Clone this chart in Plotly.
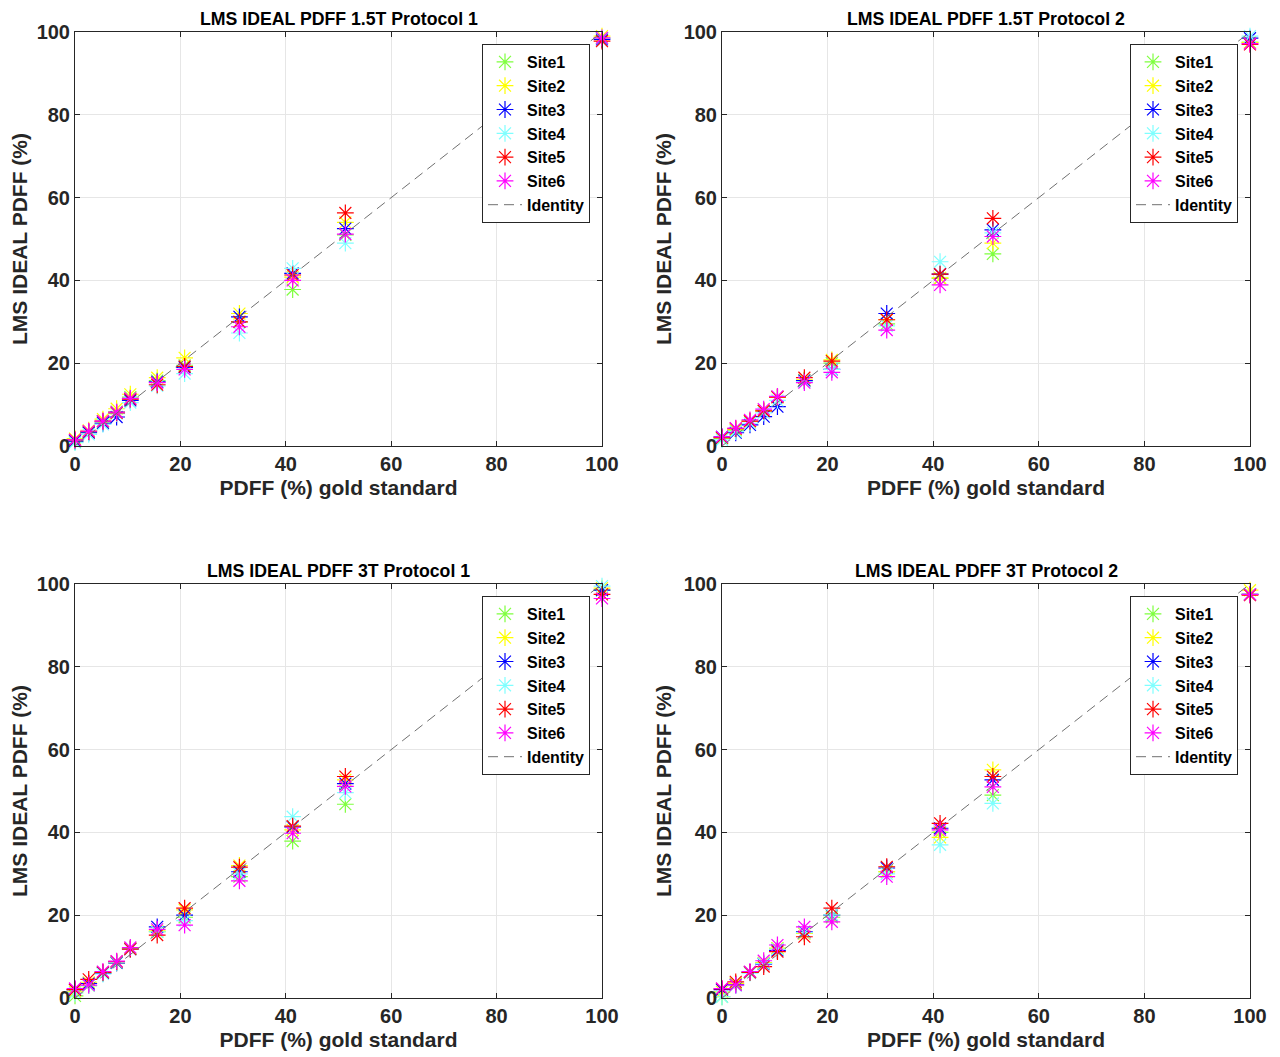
import plotly.graph_objects as go

# ---------------- data ----------------
gold_standard = [0, 2.6, 5.3, 7.9, 10.5, 15.6, 20.8, 31.2, 41.3, 51.3, 100]
site_names = ["Site1", "Site2", "Site3", "Site4", "Site5", "Site6"]
site_colors = ["#7fff3f", "#ffff00", "#0000ff", "#7fffff", "#ff0000", "#ff00ff"]

panel_titles = [
    "LMS IDEAL PDFF 1.5T Protocol 1",
    "LMS IDEAL PDFF 1.5T Protocol 2",
    "LMS IDEAL PDFF 3T Protocol 1",
    "LMS IDEAL PDFF 3T Protocol 2",
]

p1_site1 = [1.0, 3.3, 5.8, 8.3, 11.8, 15.8, 19.5, 30.0, 37.8, 51.0, 98.5]
p1_site2 = [1.8, 3.8, 6.5, 9.0, 12.5, 16.5, 21.3, 32.0, 40.8, 54.0, 99.0]
p1_site3 = [1.2, 3.2, 5.5, 7.0, 11.0, 15.5, 19.0, 31.2, 41.7, 52.5, 98.2]
p1_site4 = [0.8, 2.8, 5.2, 7.8, 10.5, 14.5, 17.5, 27.3, 42.9, 49.0, 98.5]
p1_site5 = [1.5, 3.5, 6.0, 8.0, 11.3, 14.8, 19.2, 30.0, 41.3, 56.3, 97.8]
p1_site6 = [1.5, 3.6, 6.0, 8.2, 11.5, 15.3, 18.5, 28.8, 40.0, 51.2, 98.6]

p2_site1 = [1.8, 3.8, 6.0, 8.5, 11.8, 15.8, 20.0, 29.5, 40.5, 46.4, 97.5]
p2_site2 = [2.0, 4.0, 6.0, 8.5, 11.8, 16.0, 20.8, 30.5, 40.6, 49.0, 97.5]
p2_site3 = [2.2, 3.2, 5.1, 7.1, 9.5, 15.8, 18.5, 32.0, 41.5, 52.2, 98.5]
p2_site4 = [1.5, 3.5, 5.5, 8.0, 11.0, 15.5, 18.5, 29.0, 44.5, 51.5, 99.0]
p2_site5 = [2.0, 4.2, 6.0, 8.5, 11.8, 16.5, 20.5, 30.5, 41.5, 55.0, 97.0]
p2_site6 = [2.2, 4.3, 6.3, 8.9, 12.0, 15.3, 17.8, 28.0, 38.9, 50.6, 97.2]

p3_site1 = [0.5, 3.0, 6.0, 8.5, 12.0, 16.0, 19.5, 29.3, 37.9, 46.8, 98.5]
p3_site2 = [1.5, 3.8, 6.2, 8.8, 12.0, 16.2, 21.3, 32.0, 40.6, 52.7, 99.0]
p3_site3 = [2.0, 3.5, 6.0, 8.5, 11.8, 17.2, 20.0, 30.5, 41.3, 51.8, 98.5]
p3_site4 = [1.2, 3.0, 5.8, 8.6, 11.8, 16.0, 18.7, 30.0, 43.8, 49.6, 99.5]
p3_site5 = [2.0, 4.5, 6.2, 8.8, 11.8, 15.2, 21.7, 31.6, 41.5, 53.5, 97.5]
p3_site6 = [2.3, 3.1, 6.4, 8.9, 12.2, 16.6, 17.6, 28.3, 39.8, 51.1, 96.5]

p4_site1 = [0.3, 3.5, 6.2, 8.5, 12.0, 15.6, 19.5, 30.5, 40.0, 49.0, 97.5]
p4_site2 = [1.5, 3.5, 6.2, 8.5, 12.0, 15.6, 20.0, 30.5, 38.8, 55.1, 98.5]
p4_site3 = [2.0, 3.2, 6.2, 8.2, 11.5, 16.0, 20.0, 31.4, 41.0, 52.7, 97.5]
p4_site4 = [0.3, 3.0, 6.0, 8.3, 11.8, 15.8, 20.1, 30.0, 37.0, 47.0, 97.5]
p4_site5 = [2.2, 3.9, 6.2, 7.6, 11.2, 14.8, 21.7, 31.7, 42.2, 53.5, 97.3]
p4_site6 = [2.3, 3.1, 6.4, 9.0, 12.8, 17.2, 18.4, 29.3, 40.6, 51.0, 97.5]

identity_x = [0, 100]
identity_y = [0, 100]

tick_vals = [0, 20, 40, 60, 80, 100]
x_title = "PDFF (%) gold standard"
y_title = "LMS IDEAL PDFF (%)"

panels = [
    [p1_site1, p1_site2, p1_site3, p1_site4, p1_site5, p1_site6],
    [p2_site1, p2_site2, p2_site3, p2_site4, p2_site5, p2_site6],
    [p3_site1, p3_site2, p3_site3, p3_site4, p3_site5, p3_site6],
    [p4_site1, p4_site2, p4_site3, p4_site4, p4_site5, p4_site6],
]

# ---------------- layout geometry ----------------
OFF = 8  # page body margin
W, H = 1272, 1049
ML, MR, MT, MB = 67, 30, 24, 59
IW, IH = W - ML - MR, H - MT - MB
FONT = "Liberation Sans, Arial, Helvetica, sans-serif"


def px_x(px):
    return (px - OFF - ML) / IW


def px_y(py):
    return (H - MB - (py - OFF)) / IH


# page-pixel boxes of each plot area: (left, right, top, bottom)
boxes = [(75, 602, 32, 446), (722, 1250, 32, 446),
         (75, 602, 584, 998), (722, 1250, 584, 998)]

fig = go.Figure()
layout = {}
annotations = []

for i, series in enumerate(panels):
    l, r, t, b = boxes[i]
    xa = "x" if i == 0 else f"x{i+1}"
    ya = "y" if i == 0 else f"y{i+1}"
    lg = "legend" if i == 0 else f"legend{i+1}"
    for name, color, vals in zip(site_names, site_colors, series):
        fig.add_trace(go.Scatter(
            x=gold_standard, y=vals, mode="markers", name=name,
            marker=dict(symbol="asterisk-open", size=14, color=color,
                        line=dict(color=color, width=1.2)),
            xaxis=xa, yaxis=ya, legend=lg, cliponaxis=False,
        ))
    fig.add_trace(go.Scatter(
        x=identity_x, y=identity_y, mode="lines", name="Identity",
        line=dict(color="#707070", width=1, dash="10px,6px"),
        xaxis=xa, yaxis=ya, legend=lg,
    ))

    axis_common = dict(
        range=[0, 100], tickvals=tick_vals, showgrid=True, gridcolor="#e6e6e6",
        gridwidth=1, zeroline=False, showline=True, linecolor="#262626",
        linewidth=1, mirror="ticks", ticks="inside", ticklen=5,
        tickcolor="#262626", automargin=False,
        tickfont=dict(family=FONT, size=20, color="#262626", weight="bold"),
    )
    xkey = "xaxis" if i == 0 else f"xaxis{i+1}"
    ykey = "yaxis" if i == 0 else f"yaxis{i+1}"
    layout[xkey] = dict(axis_common, domain=[px_x(l), px_x(r)], anchor=ya,
                        title=dict(text=x_title, standoff=6,
                                   font=dict(family=FONT, size=21, color="#262626", weight="bold")))
    layout[ykey] = dict(axis_common, domain=[px_y(b), px_y(t)], anchor=xa,
                        title=dict(text=y_title, standoff=6,
                                   font=dict(family=FONT, size=21, color="#262626", weight="bold")))
    layout[lg] = dict(
        x=px_x(r - 12), y=px_y(t + 12),
        xanchor="right", yanchor="top", bgcolor="white",
        bordercolor="#262626", borderwidth=1,
        font=dict(family=FONT, size=16, color="black", weight="bold"),
        tracegroupgap=0, itemwidth=34,
    )
    annotations.append(dict(
        text=panel_titles[i], x=px_x((l + r) / 2), y=px_y(t - 13),
        xref="paper", yref="paper", xanchor="center", yanchor="middle",
        showarrow=False, font=dict(family=FONT, size=17.7, color="black", weight="bold"),
    ))

fig.update_layout(
    width=W, height=H, margin=dict(l=ML, r=MR, t=MT, b=MB, autoexpand=False),
    paper_bgcolor="white", plot_bgcolor="white",
    showlegend=True, annotations=annotations, **layout,
)

fig.write_html("out.html")
